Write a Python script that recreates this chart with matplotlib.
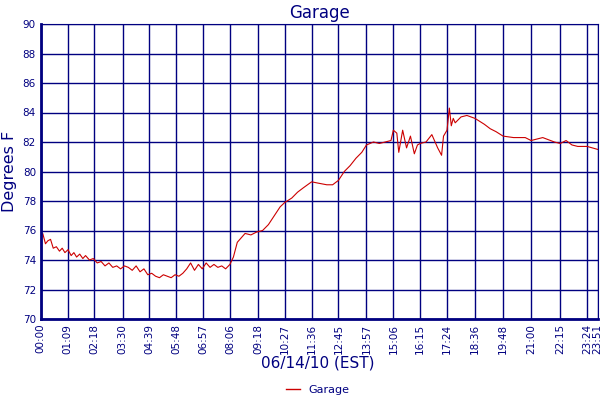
import matplotlib
matplotlib.use("Agg")
import matplotlib.pyplot as plt
from matplotlib.lines import Line2D

minutes = [0, 5, 12, 18, 25, 32, 40, 48, 55, 62, 70, 78, 85, 92, 100, 108, 115, 125, 135, 145, 155, 165, 175, 185, 195, 205, 215, 225, 235, 245, 255, 265, 275, 285, 295, 305, 315, 325, 335, 345, 355, 365, 375, 385, 395, 405, 415, 425, 435, 445, 455, 465, 475, 486, 495, 505, 515, 525, 540, 555, 570, 585, 600, 615, 627, 645, 660, 675, 696, 715, 735, 750, 765, 780, 795, 810, 825, 837, 855, 870, 885, 900, 906, 915, 920, 930, 940, 950, 960, 968, 975, 990, 1005, 1020, 1030, 1035, 1044, 1050, 1055, 1060, 1065, 1080, 1095, 1116, 1140, 1155, 1170, 1188, 1215, 1245, 1260, 1290, 1320, 1335, 1350, 1365, 1380, 1404, 1431]
temps = [75.6, 75.8, 75.1, 75.3, 75.4, 74.8, 74.9, 74.6, 74.8, 74.5, 74.7, 74.3, 74.5, 74.2, 74.4, 74.1, 74.3, 74.0, 74.1, 73.8, 73.9, 73.6, 73.8, 73.5, 73.6, 73.4, 73.6, 73.5, 73.3, 73.6, 73.2, 73.4, 73.0, 73.1, 72.9, 72.8, 73.0, 72.9, 72.8, 73.0, 72.9, 73.1, 73.4, 73.8, 73.3, 73.7, 73.4, 73.8, 73.5, 73.7, 73.5, 73.6, 73.4, 73.7, 74.2, 75.2, 75.5, 75.8, 75.7, 75.9, 76.0, 76.4, 77.0, 77.6, 77.9, 78.2, 78.6, 78.9, 79.3, 79.2, 79.1, 79.1, 79.4, 80.0, 80.4, 80.9, 81.3, 81.8, 82.0, 81.9, 82.0, 82.1, 82.8, 82.6, 81.3, 82.8, 81.6, 82.4, 81.2, 81.8, 81.9, 82.0, 82.5, 81.6, 81.1, 82.4, 82.8, 84.3, 83.1, 83.6, 83.3, 83.7, 83.8, 83.6, 83.2, 82.9, 82.7, 82.4, 82.3, 82.3, 82.1, 82.3, 82.0, 81.9, 82.1, 81.8, 81.7, 81.7, 81.5]

tick_minutes = [0, 69, 138, 210, 279, 348, 417, 486, 558, 627, 696, 765, 837, 906, 975, 1044, 1116, 1188, 1260, 1335, 1404, 1431]
tick_labels = ["00:00", "01:09", "02:18", "03:30", "04:39", "05:48", "06:57", "08:06", "09:18", "10:27", "11:36", "12:45", "13:57", "15:06", "16:15", "17:24", "18:36", "19:48", "21:00", "22:15", "23:24", "23:51"]
navy = "#000080"

fig = plt.figure(figsize=(6, 4), dpi=100)
ax = fig.add_axes([0.068, 0.2025, 0.928, 0.7375])
ax.plot(minutes, temps, color="#cc0000", lw=0.8)
ax.set_xlim(0, 1431)
ax.set_ylim(70, 90)
ax.set_yticks(range(70, 91, 2))
ax.set_xticks(tick_minutes)
ax.set_xticklabels(tick_labels, rotation=90)
ax.tick_params(colors=navy, labelsize=7.5, length=0)
ax.grid(True, color=navy, lw=1)
for s in ax.spines.values():
    s.set_color(navy)
ax.spines['left'].set_linewidth(2)
ax.spines['bottom'].set_linewidth(2)
ax.set_title("Garage", color=navy, fontsize=12, pad=4)
ax.set_ylabel("Degrees F", color=navy, fontsize=11.5)
fig.text(0.53, 0.08, "06/14/10 (EST)", color=navy, fontsize=11, ha="center")
fig.legend(handles=[Line2D([], [], color="#cc0000", lw=1)], labels=["Garage"],
           loc="center", bbox_to_anchor=(0.53, 0.025), frameon=False, fontsize=8,
           handlelength=1.2, labelcolor=navy)
fig.savefig("out.png")
